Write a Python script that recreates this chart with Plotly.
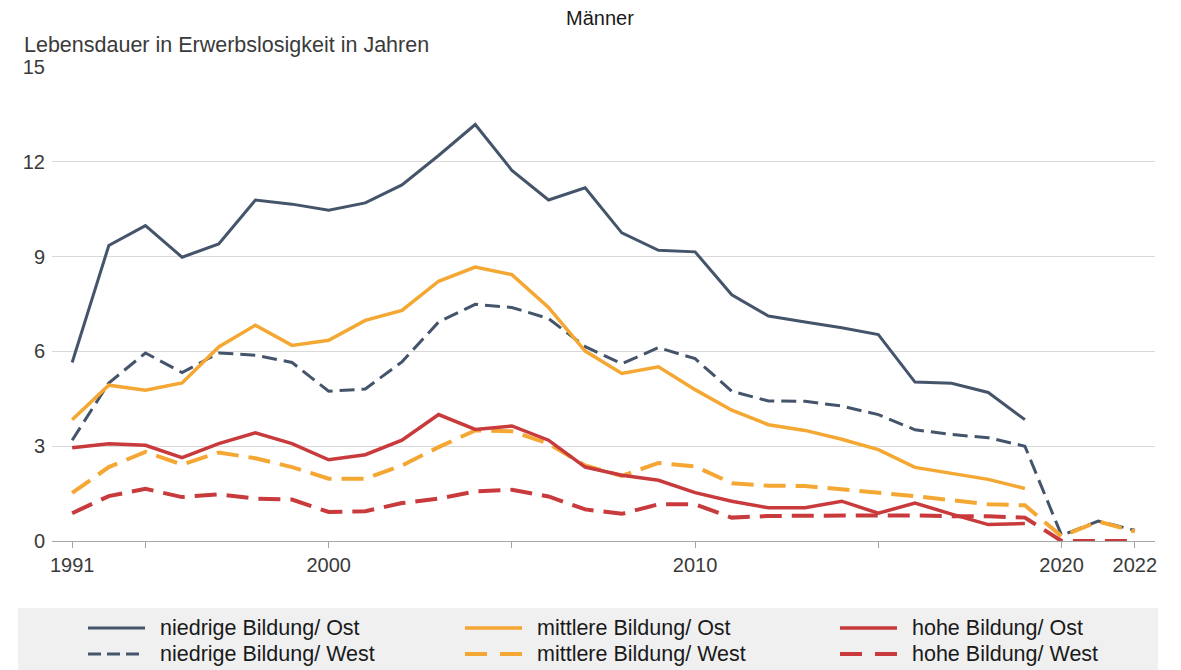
import plotly.graph_objects as go

# Years on the horizontal axis (category axis, one slot per survey year)
years = ["1991"] + [str(y) for y in range(1994, 2023)]

# Life expectancy in unemployment (years), men
niedrig_ost = [5.65, 9.35, 9.98, 8.98, 9.40, 10.79, 10.66, 10.47, 10.70, 11.27,
               12.2, 13.18, 11.73, 10.79, 11.18, 9.75, 9.20, 9.15, 7.79, 7.12,
               6.93, 6.75, 6.53, 5.03, 4.99, 4.70, 3.84, None, None, None]
niedrig_west = [3.19, 5.0, 5.95, 5.33, 5.95, 5.88, 5.65, 4.74, 4.81, 5.67,
                6.93, 7.49, 7.39, 7.04, 6.15, 5.61, 6.12, 5.77, 4.74, 4.43,
                4.42, 4.27, 4.0, 3.52, 3.37, 3.27, 3.0, 0.18, 0.63, 0.34]
mittel_ost = [3.84, 4.93, 4.77, 5.0, 6.14, 6.83, 6.19, 6.35, 6.98, 7.30,
              8.22, 8.67, 8.43, 7.39, 6.01, 5.30, 5.51, 4.79, 4.14, 3.68,
              3.50, 3.22, 2.89, 2.33, 2.14, 1.95, 1.66, None, None, None]
mittel_west = [1.52, 2.34, 2.82, 2.42, 2.80, 2.62, 2.34, 1.97, 1.97, 2.39,
               2.97, 3.50, 3.47, 3.08, 2.39, 2.06, 2.47, 2.36, 1.83, 1.75,
               1.74, 1.63, 1.55, 1.42, 1.29, 1.16, 1.13, 0.15, 0.62, 0.30]
hoch_ost = [2.95, 3.08, 3.03, 2.64, 3.08, 3.42, 3.08, 2.57, 2.73, 3.19,
            4.0, 3.53, 3.64, 3.19, 2.34, 2.08, 1.92, 1.53, 1.26, 1.05,
            1.05, 1.26, 0.88, 1.20, 0.85, 0.52, 0.55, None, None, None]
hoch_west = [0.88, 1.42, 1.65, 1.39, 1.48, 1.34, 1.31, 0.92, 0.94, 1.20,
             1.34, 1.57, 1.62, 1.41, 1.0, 0.86, 1.16, 1.16, 0.74, 0.79,
             0.80, 0.81, 0.83, 0.81, 0.78, 0.78, 0.74, 0.0, 0.0, 0.0]

tick_years = ["1991", "1995", "2000", "2005", "2010", "2015", "2020", "2022"]
tick_labels = ["1991", "", "2000", "", "2010", "", "2020", "2022"]
y_ticks = [0, 3, 6, 9, 12, 15]

SLATE = "#44546a"
ORANGE = "#f5a733"
RED = "#c93a3c"
FONT = "Liberation Sans, Arial, sans-serif"
TEXT = "#3a3a3a"

series = [
    ("niedrige Bildung/ Ost", niedrig_ost, SLATE, "solid", 3),
    ("mittlere Bildung/ Ost", mittel_ost, ORANGE, "solid", 3.5),
    ("hohe Bildung/ Ost", hoch_ost, RED, "solid", 3.5),
    ("niedrige Bildung/ West", niedrig_west, SLATE, "15px,7px", 3),
    ("mittlere Bildung/ West", mittel_west, ORANGE, "22px,10px", 4),
    ("hohe Bildung/ West", hoch_west, RED, "22px,10px", 4),
]

fig = go.Figure()
# draw West lines first so the solid Ost lines sit on top
draw_order = [3, 4, 5, 0, 1, 2]
for i in draw_order:
    name, vals, col, dash, w = series[i]
    fig.add_trace(go.Scatter(
        x=years, y=vals, name=name, mode="lines",
        line=dict(color=col, dash=dash, width=w),
        showlegend=False, hoverinfo="x+y+name",
    ))

# plot-area geometry in pixels
W, H = 1181, 670
L, R, T, B = 52, 26, 67, 129
PW, PH = W - L - R, H - T - B


def px(x):
    return (x - L) / PW


def py(y):
    return (H - B - y) / PH


shapes = []
annotations = []

# legend panel
shapes.append(dict(type="rect", xref="paper", yref="paper",
                   x0=px(18), x1=px(1158), y0=py(608), y1=py(670),
                   fillcolor="#f0f0f0", line=dict(width=0), layer="below"))

col_x = [88, 465, 840]
row_y = [628, 654]
for k, (name, vals, col, dash, w) in enumerate(series):
    c, r = k % 3, k // 3
    x0 = col_x[c]
    y0 = row_y[r]
    shapes.append(dict(type="line", xref="paper", yref="paper",
                       x0=px(x0), x1=px(x0 + 57), y0=py(y0), y1=py(y0),
                       line=dict(color=col, width=w,
                                 dash=("solid" if dash == "solid" else
                                       ("13px,6px" if col == SLATE else "22px,13px")))))
    annotations.append(dict(xref="paper", yref="paper", x=px(x0 + 70), y=py(y0),
                            text=name, showarrow=False, xanchor="left",
                            yanchor="middle",
                            font=dict(family=FONT, size=21.5, color="#1a1a1a")))

# y-axis caption above the plot
annotations.append(dict(xref="paper", yref="paper", x=px(22), y=py(45),
                        text="Lebensdauer in Erwerbslosigkeit in Jahren",
                        showarrow=False, xanchor="left", yanchor="middle",
                        font=dict(family=FONT, size=21.5, color=TEXT)))

fig.update_layout(
    width=W, height=H,
    margin=dict(l=L, r=R, t=T, b=B),
    paper_bgcolor="white", plot_bgcolor="white",
    title=dict(text="Männer", x=0.508, xanchor="center", y=1 - 18 / H,
               yanchor="middle", font=dict(family=FONT, size=20, color="#1a1a1a")),
    font=dict(family=FONT, size=20, color=TEXT),
    shapes=shapes, annotations=annotations,
    xaxis=dict(type="category", range=[-0.55, 29.55],
               tickmode="array", tickvals=tick_years, ticktext=tick_labels,
               ticks="outside", ticklen=6, tickcolor="#a6a6a6", tickwidth=1,
               showline=True, linecolor="#a6a6a6", linewidth=1,
               showgrid=False, zeroline=False,
               tickfont=dict(family=FONT, size=20, color=TEXT)),
    yaxis=dict(range=[0, 15], tickmode="array", tickvals=y_ticks,
               showgrid=True, gridcolor="#d9d9d9", gridwidth=1,
               zeroline=False, showline=False, ticks="",
               ticklabelstandoff=6,
               tickfont=dict(family=FONT, size=20, color=TEXT)),
)

fig.write_html("out.html")
